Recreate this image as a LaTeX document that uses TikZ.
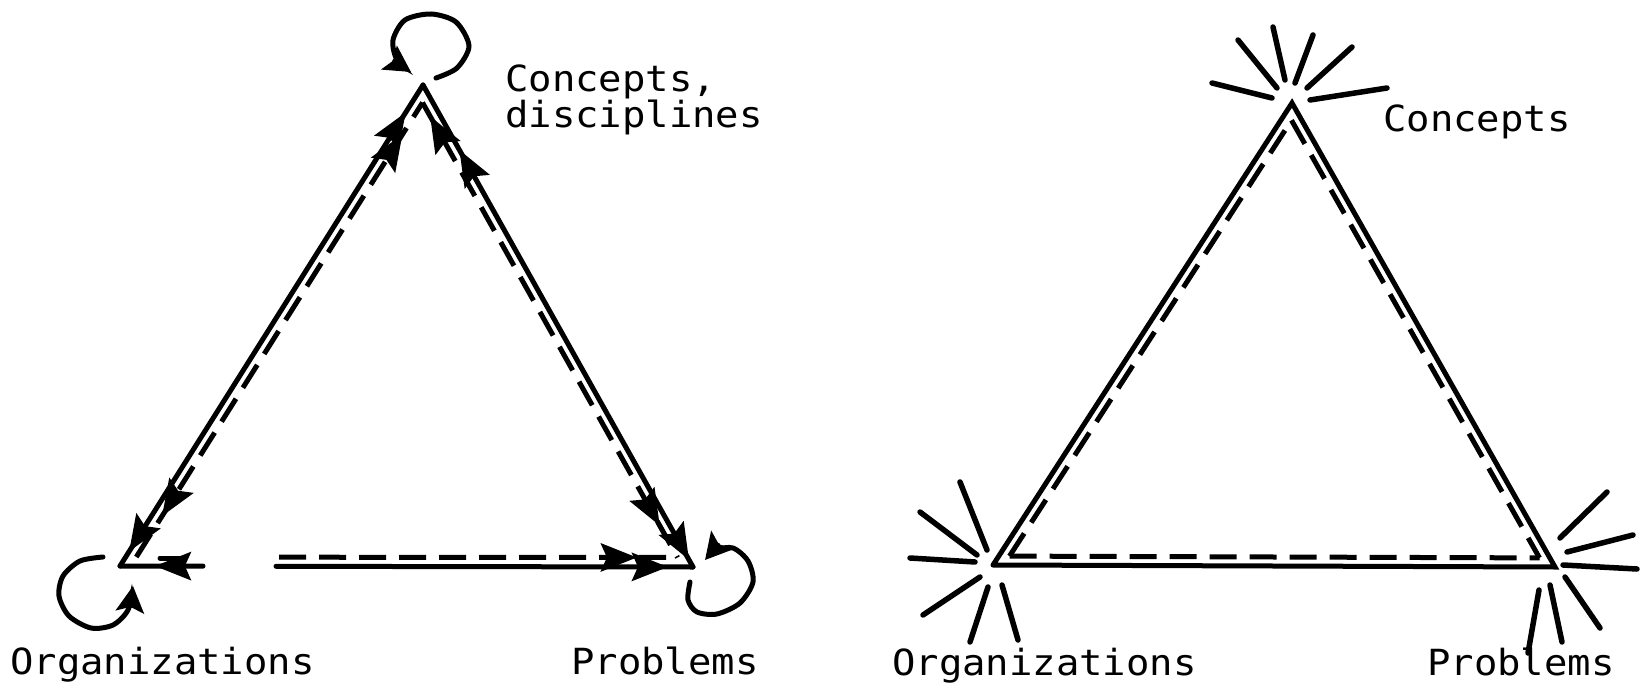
\documentclass[tikz,border=0pt]{standalone}
\usepackage{fontspec}
\newfontfamily\lblfont{DejaVu Sans Mono}[FakeStretch=1.08]
\usetikzlibrary{arrows.meta,decorations.markings}
\begin{document}
\begin{tikzpicture}[x=1pt,y=-1pt,
  edge/.style={line width=5pt, line cap=round},
  dashedge/.style={line width=5pt, dash pattern=on 27pt off 13pt},
  ray/.style={line width=5.5pt, line cap=round},
  loopline/.style={line width=5pt, line cap=round, -{Stealth[length=26pt,width=28pt,inset=5pt]}},
  lbl/.style={font=\lblfont\fontsize{36}{36}\selectfont, inner sep=0pt, anchor=base west, align=left},
  fwd/.style={postaction={decorate,decoration={markings, mark=at position #1 with {\arrow{Stealth[length=36pt,width=28pt,inset=6pt]}}}}},
  bwd/.style={postaction={decorate,decoration={markings, mark=at position #1 with {\arrowreversed{Stealth[length=36pt,width=28pt,inset=6pt]}}}}},
]
\fill[white] (0,0) rectangle (1644,690);
\useasboundingbox (0,0) rectangle (1644,690);

% ---------------- left triangle ----------------
\coordinate (A) at (423,85);
\coordinate (B) at (120,566);
\coordinate (C) at (693,567);
\coordinate (Ai) at (422.5,102.6);
\coordinate (Bi) at (136.3,557);
\coordinate (Ci) at (677.6,557.5);
\coordinate (g1) at (203,566.1);
\coordinate (g2) at (276,566.3);
\coordinate (Bd) at (279,557.2);
\coordinate (d1) at (160,558);
\coordinate (d2) at (185,558);

\draw[edge, fwd=0.943, bwd=0.03] (B) -- (A);
\draw[dashedge, fwd=0.93, bwd=0.09] (Bi) -- (Ai);
\draw[edge, bwd=0.135, fwd=0.985] (A) -- (C);
\draw[dashedge, bwd=0.03, fwd=0.93] (Ai) -- (Ci);
\draw[edge, bwd=0.42] (B) -- (g1);
\draw[edge, fwd=0.94] (g2) -- (C);
\draw[dashedge, fwd=0.898] (Bd) -- (Ci);
\draw[edge] (d1) -- (d2);

% self loops
\draw[loopline] plot[smooth] coordinates {(436,78) (457,68) (469,46) (456,22) (431,14) (405,20) (393,40) (397,60) (411,72)};
\draw[loopline] plot[smooth] coordinates {(103,557) (80,561) (63,576) (59,596) (69,616) (91,628) (113,625) (128,610) (133,586)};
\draw[loopline] plot[smooth] coordinates {(690,582) (688,600) (697,612) (717,614) (740,603) (753,582) (748,561) (733,548) (716,550) (705,560)};

\node[lbl] (conc1) at (505,128) {Concepts,\\disciplines};
\node[lbl] (org1) at (10,674) {Organizations};
\node[lbl] (prob1) at (571,674) {Problems};

% ---------------- right triangle ----------------
\coordinate (D) at (1292,103);
\coordinate (E) at (993,565);
\coordinate (F) at (1555,567);
\coordinate (Di) at (1291.5,120.3);
\coordinate (Ei) at (1009.5,556.1);
\coordinate (Fi) at (1539.5,557.9);

\draw[edge] (E) -- (D) -- (F) -- (E);
\draw[dashedge] (Ei) -- (Di);
\draw[dashedge] (Di) -- (Fi);
\draw[dashedge] (Ei) -- (Fi);

% rays at top vertex
\draw[ray] (1212,83) -- (1272,98);
\draw[ray] (1238,40) -- (1277,88);
\draw[ray] (1273,27) -- (1285,80);
\draw[ray] (1313,35) -- (1295,83);
\draw[ray] (1352,47) -- (1307,88);
\draw[ray] (1387,88) -- (1310,100);
% rays at bottom-left vertex
\draw[ray] (910,558) -- (975,562);
\draw[ray] (920,512) -- (977,555);
\draw[ray] (960,482) -- (987,550);
\draw[ray] (923,615) -- (980,577);
\draw[ray] (970,642) -- (988,587);
\draw[ray] (1018,640) -- (1002,585);
% rays at bottom-right vertex
\draw[ray] (1560,538) -- (1607,492);
\draw[ray] (1567,552) -- (1633,535);
\draw[ray] (1563,565) -- (1637,569);
\draw[ray] (1565,577) -- (1600,628);
\draw[ray] (1550,585) -- (1562,642);
\draw[ray] (1539,590) -- (1528,653);

\node[lbl] (conc2) at (1383,132) {Concepts};
\node[lbl] (org2) at (892,675) {Organizations};
\node[lbl] (prob2) at (1427,675) {Problems};
\end{tikzpicture}
\end{document}
